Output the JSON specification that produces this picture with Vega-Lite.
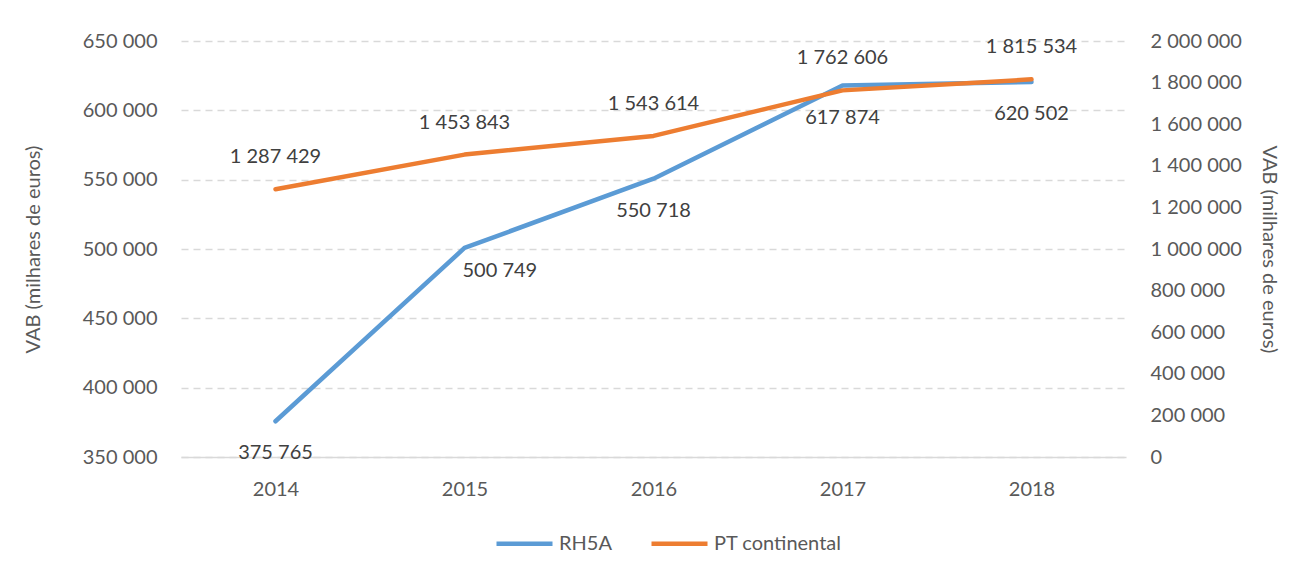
{
  "$schema": "https://vega.github.io/schema/vega-lite/v6.json",
  "width": 945,
  "height": 416,
  "autosize": {"type": "none"},
  "padding": {"left": 181, "top": 41, "right": 180, "bottom": 118},
  "background": "white",
  "config": {
    "locale": {"number": {"decimal": ",", "thousands": " ", "grouping": [3], "currency": ["", " €"]}},
    "font": "Lato",
    "view": {"stroke": null},
    "axis": {
      "labelFont": "Lato", "labelFontSize": 20, "labelColor": "#595959",
      "titleFont": "Lato", "titleFontSize": 20, "titleColor": "#595959", "titleFontWeight": "normal",
      "ticks": false, "domain": false, "grid": false
    },
    "legend": {"labelFont": "Lato", "labelFontSize": 20, "labelColor": "#595959"}
  },
  "data": {
    "values": [
      {"year": "2014", "series": "RH5A", "value": 375765},
      {"year": "2015", "series": "RH5A", "value": 500749},
      {"year": "2016", "series": "RH5A", "value": 550718},
      {"year": "2017", "series": "RH5A", "value": 617874},
      {"year": "2018", "series": "RH5A", "value": 620502},
      {"year": "2014", "series": "PT continental", "value": 1287429},
      {"year": "2015", "series": "PT continental", "value": 1453843},
      {"year": "2016", "series": "PT continental", "value": 1543614},
      {"year": "2017", "series": "PT continental", "value": 1762606},
      {"year": "2018", "series": "PT continental", "value": 1815534}
    ]
  },
  "encoding": {
    "x": {
      "field": "year", "type": "ordinal",
      "axis": {"title": null, "labelAngle": 0, "labelPadding": 22, "domain": true, "domainColor": "#D9D9D9", "domainWidth": 1.5}
    }
  },
  "layer": [
    {
      "transform": [{"filter": "datum.series === 'RH5A'"}],
      "encoding": {
        "y": {
          "field": "value", "type": "quantitative",
          "scale": {"domain": [350000, 650000], "nice": false, "zero": false},
          "axis": {
            "orient": "left", "title": "VAB (milhares de euros)", "titlePadding": 39,
            "values": [350000, 400000, 450000, 500000, 550000, 600000, 650000],
            "format": ",d", "labelPadding": 24,
            "grid": true, "gridColor": "#D9D9D9", "gridDash": [7, 5], "gridWidth": 1.3
          }
        }
      },
      "layer": [
        {
          "mark": {"type": "line", "strokeWidth": 4.5, "strokeCap": "round", "strokeJoin": "round"},
          "encoding": {
            "color": {
              "field": "series", "type": "nominal",
              "scale": {"domain": ["RH5A", "PT continental"], "range": ["#5B9BD5", "#ED7D31"]},
              "legend": {
                "title": null, "orient": "none", "direction": "horizontal",
                "legendX": 313, "legendY": 472,
                "symbolType": "stroke", "symbolSize": 3136, "symbolStrokeWidth": 4.5,
                "columnPadding": 30, "labelOffset": 4
              }
            }
          }
        },
        {
          "transform": [{"filter": "datum.year !== '2015'"}],
          "mark": {"type": "text", "fontSize": 20, "color": "#404040", "dy": 32, "baseline": "middle"},
          "encoding": {"text": {"field": "value", "type": "quantitative", "format": ",d"}}
        },
        {
          "transform": [{"filter": "datum.year === '2015'"}],
          "mark": {"type": "text", "fontSize": 20, "color": "#404040", "dy": 23, "dx": -2, "align": "left", "baseline": "middle"},
          "encoding": {"text": {"field": "value", "type": "quantitative", "format": ",d"}}
        }
      ]
    },
    {
      "transform": [{"filter": "datum.series === 'PT continental'"}],
      "encoding": {
        "y": {
          "field": "value", "type": "quantitative",
          "scale": {"domain": [0, 2000000], "nice": false},
          "axis": {
            "orient": "right", "title": "VAB (milhares de euros)", "titlePadding": 17,
            "values": [0, 200000, 400000, 600000, 800000, 1000000, 1200000, 1400000, 1600000, 1800000, 2000000],
            "format": ",d", "labelPadding": 24
          }
        }
      },
      "layer": [
        {
          "mark": {"type": "line", "strokeWidth": 4.5, "strokeCap": "round", "strokeJoin": "round"},
          "encoding": {"color": {"field": "series", "type": "nominal"}}
        },
        {
          "mark": {"type": "text", "fontSize": 20, "color": "#404040", "dy": -32, "baseline": "middle"},
          "encoding": {"text": {"field": "value", "type": "quantitative", "format": ",d"}}
        }
      ]
    }
  ],
  "resolve": {"scale": {"y": "independent"}}
}
